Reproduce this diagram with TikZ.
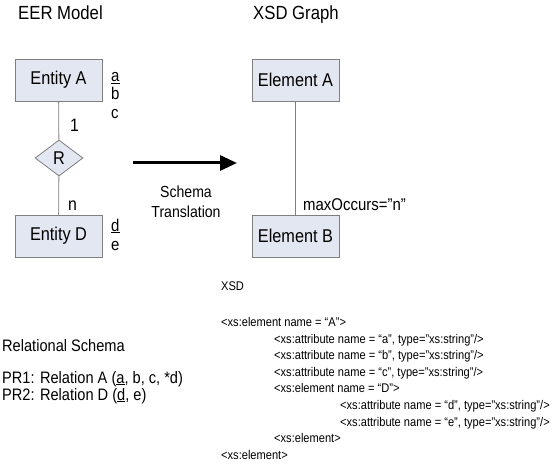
\documentclass[tikz,border=0pt]{standalone}
\usepackage{fontspec}
\setmainfont{Liberation Sans}[FakeStretch=0.88]
\usetikzlibrary{shapes.geometric,arrows.meta}
\definecolor{boxfill}{HTML}{E3E7F1}
\definecolor{boxline}{HTML}{7F7F7F}
\newcommand{\fs}[1]{\fontsize{#1}{#1}\selectfont}
\begin{document}
\begin{tikzpicture}[x=1pt,y=-1pt,
  entbox/.style={draw=boxline, fill=boxfill, line width=0.8pt, minimum width=87pt, minimum height=42pt, inner sep=0pt, font=\fs{18.5}},
  relbox/.style={draw=boxline, fill=boxfill, line width=0.8pt, shape=diamond, minimum width=48pt, minimum height=36pt, inner sep=0pt, font=\fs{18.5}},
  conn/.style={draw=boxline, line width=0.8pt},
  txt/.style={inner sep=0pt, anchor=base west},
  ctxt/.style={inner sep=0pt, anchor=base},
  code/.style={inner sep=0pt, anchor=base west, font=\fs{12.6}}
]
\useasboundingbox (0,0) rectangle (553,470);
% titles
\node[txt, font=\fs{19}] (t1) at (18,20) {EER Model};
\node[txt, font=\fs{19}] (t2) at (253,20) {XSD Graph};
% EER
\node[entbox] (ea) at (58.5,80) {Entity A};
\node[relbox] (r) at (59,158) {R};
\node[entbox] (ed) at (58.5,236) {Entity D};
\draw[conn] (ea) -- (r);
\draw[conn] (r) -- (ed);
\node[txt, font=\fs{17}] (aa) at (111,82) {\underline{a}};
\node[txt, font=\fs{17}] (ab) at (111,100) {b};
\node[txt, font=\fs{17}] (ac) at (111,119) {c};
\node[txt, font=\fs{17}] (ad) at (111,231) {\underline{d}};
\node[txt, font=\fs{17}] (ae) at (111,250) {e};
\node[txt, font=\fs{18}] (one) at (70,132) {1};
\node[txt, font=\fs{18}] (en) at (68,211) {n};
% XSD graph
\node[entbox] (xa) at (295.5,80) {Element A};
\node[entbox] (xb) at (295.5,236) {Element B};
\draw[conn] (xa) -- (xb);
\node[txt, font=\fs{17}] (mo) at (303,210) {maxOccurs=”n”};
% arrow
\coordinate (as) at (133,163);
\coordinate (ae2) at (237,163);
\draw[line width=3pt, -{Triangle[length=17pt,width=15pt]}] (as) -- (ae2);
\node[ctxt, font=\fs{16}] (s1) at (186,197) {Schema};
\node[ctxt, font=\fs{16}] (s2) at (186,217) {Translation};
% relational schema
\node[txt, font=\fs{16.6}] (rs) at (2,351) {Relational Schema};
\node[txt, font=\fs{16.6}] (p1) at (2,383) {PR1: Relation A (\underline{a}, b, c, *d)};
\node[txt, font=\fs{16.6}] (p2) at (2,400) {PR2: Relation D (\underline{d}, e)};
% XSD code
\node[code] (x0) at (221,290) {XSD};
\node[code] (c1) at (221,326.5) {<xs:element name = “A”>};
\node[code] (c2) at (274,343.1) {<xs:attribute name = “a”, type="xs:string"/>};
\node[code] (c3) at (274,359.7) {<xs:attribute name = “b”, type="xs:string"/>};
\node[code] (c4) at (274,376.3) {<xs:attribute name = “c”, type="xs:string"/>};
\node[code] (c5) at (274,392.9) {<xs:element name = “D”>};
\node[code] (c6) at (340,409.5) {<xs:attribute name = “d”, type="xs:string"/>};
\node[code] (c7) at (340,426.1) {<xs:attribute name = “e”, type="xs:string"/>};
\node[code] (c8) at (274,442.7) {<xs:element>};
\node[code] (c9) at (221,459.3) {<xs:element>};
\end{tikzpicture}
\end{document}
